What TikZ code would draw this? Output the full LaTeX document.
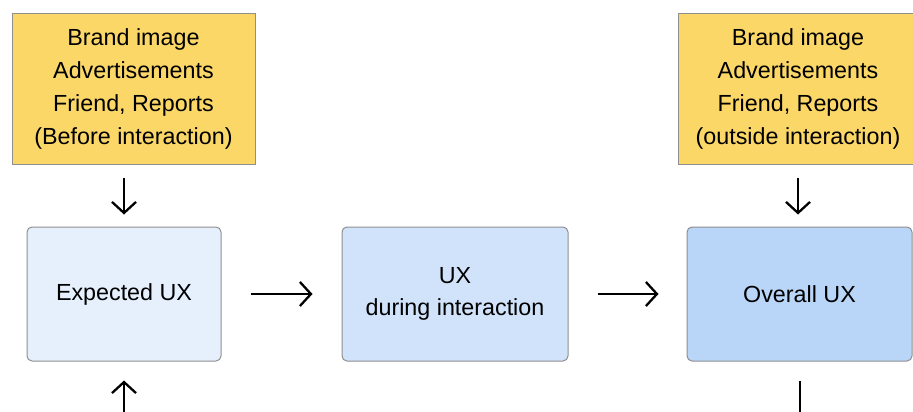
\documentclass[tikz,border=0pt]{standalone}
\usepackage{fontspec}
\setmainfont{Liberation Sans}
\usetikzlibrary{arrows.meta}
\definecolor{noteyellow}{HTML}{FBD768}
\definecolor{uxlight}{HTML}{E6F0FD}
\definecolor{uxmid}{HTML}{D1E3FA}
\definecolor{uxdark}{HTML}{B9D5F8}
\definecolor{edgegray}{HTML}{8F8F8F}
\tikzset{
  notebox/.style={draw=edgegray, line width=1pt, fill=noteyellow, inner sep=0pt,
    align=center, font=\fontsize{23.3}{32.7}\selectfont},
  uxbox/.style={draw=edgegray, line width=1pt, rounded corners=5pt, inner sep=0pt,
    align=center, font=\fontsize{23.3}{32.7}\selectfont},
  flow/.style={line width=2.3pt, -{Straight Barb[length=11pt,width=24pt,line width=2.3pt]}},
  plain/.style={line width=2.3pt}
}
\begin{document}
\begin{tikzpicture}[x=1pt,y=-1pt]
  \useasboundingbox (0,0) rectangle (913,412);
  % information sources
  \node[notebox, minimum width=243pt, minimum height=150pt] (srcA) at (133.5,89)
    {Brand image\\Advertisements\\Friend, Reports\\(Before interaction)};
  \node[notebox, minimum width=240pt, minimum height=150pt] (srcB) at (798,89)
    {Brand image\\Advertisements\\Friend, Reports\\(outside interaction)};
  % UX stages
  \node[uxbox, fill=uxlight, minimum width=194pt, minimum height=134pt] (exp) at (124,294)
    {Expected UX};
  \node[uxbox, fill=uxmid, minimum width=226pt, minimum height=134pt] (during) at (455,294)
    {UX\\during interaction};
  \node[uxbox, fill=uxdark, minimum width=225pt, minimum height=134pt] (overall) at (799.5,294)
    {Overall UX};
  % free ends at the lower border
  \coordinate (inA) at (124,412);
  \coordinate (outB) at (800,412);
  % connectors
  \draw[flow] ([yshift=-13pt]srcA.south -| exp.north) -- ([yshift=12pt]exp.north);
  \draw[flow] ([yshift=-13pt]srcB.south) -- ([yshift=12pt]srcB.south |- overall.north);
  \draw[flow] ([xshift=29pt]exp.east) -- ([xshift=-29pt]during.west);
  \draw[flow] ([xshift=29pt]during.east) -- ([xshift=-28pt]overall.west);
  \draw[flow] (inA) -- ([yshift=-19pt]exp.south);
  \draw[plain] ([yshift=-19pt]overall.south -| outB) -- (outB);
\end{tikzpicture}
\end{document}
